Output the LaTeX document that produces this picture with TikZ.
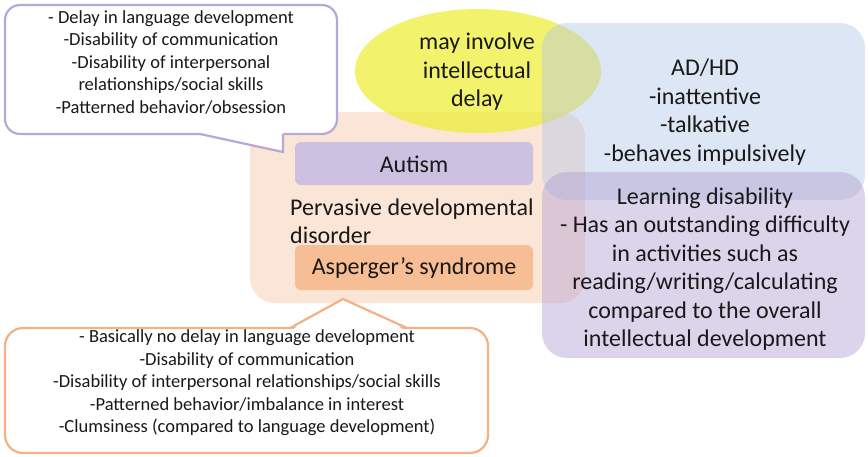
\documentclass[tikz,border=0pt]{standalone}
\usepackage{fontspec}
\setmainfont{Carlito}
\definecolor{pddfill}{RGB}{248,203,173}
\definecolor{autfill}{RGB}{204,193,224}
\definecolor{aspfill}{RGB}{247,190,150}
\definecolor{delayfill}{RGB}{238,238,60}
\definecolor{adhdfill}{RGB}{180,199,231}
\definecolor{ldfill}{RGB}{178,160,210}
\definecolor{purpleline}{RGB}{182,168,216}
\definecolor{orangeline}{RGB}{244,177,131}

\begin{document}
\begin{tikzpicture}[x=1pt,y=-1pt,
    every node/.style={inner sep=0pt, align=center, text=black!90},
    big/.style={font=\fontsize{24}{28.5}\selectfont},
    small/.style={font=\fontsize{18.5}{22.5}\selectfont}]
      \useasboundingbox (0,0) rectangle (868,456);

      % areas
      \fill[pddfill, fill opacity=0.5, rounded corners=25pt] (250,112) rectangle (585,303);
      \fill[autfill, rounded corners=6pt] (295,142) rectangle (533,185);
      \fill[aspfill, rounded corners=6pt] (295,245) rectangle (533,290);
      \fill[delayfill, fill opacity=0.75] (478,71) ellipse [x radius=123, y radius=62];
      \fill[adhdfill, fill opacity=0.45, rounded corners=25pt] (542,23) rectangle (865,200);
      \fill[ldfill, fill opacity=0.45, rounded corners=25pt] (542,172) rectangle (865,358);

      % callouts
      \draw[purpleline, line width=2.2pt, fill=white, rounded corners=15pt]
      (5,5) rectangle (337,134);
      \fill[white] (200,131)--(200,134)--(283,152)--(283,131)--cycle;
      \draw[purpleline, line width=2.2pt] (200,134)--(283,152)--(283,134);

      \draw[orangeline, line width=2.2pt, fill=white, rounded corners=18pt]
      (5,328) rectangle (488,453);
      \fill[white] (290,331)--(343,299)--(407,331)--cycle;
      \draw[orangeline, line width=2.2pt] (290,328)--(343,299)--(407,328);

      % texts
      \node at(171,62) [small] (asd-note) {- Delay in language development\\-Disability of communication\\-Disability of interpersonal\\relationships/social skills\\-Patterned behavior/obsession};
      \node at(247,383) [small] (asp-note) {- Basically no delay in language development\\-Disability of communication\\-Disability of interpersonal relationships/social skills\\-Patterned behavior/imbalance in interest\\-Clumsiness (compared to language development)};
      \node at(477,72) [big] (delay) {may involve\\intellectual\\delay};
      \node at(414,164) [big] (autism) {Autism};
      \node at(290,221) [big, anchor=west, align=left] (pdd) {Pervasive developmental\\disorder};
      \node at(414,268) [big] (asperger) {Asperger’s syndrome};
      \node at(705,112) [big] (adhd) {AD/HD\\-inattentive\\-talkative\\-behaves impulsively};
      \node at(705,269) [big] (ld) {Learning disability\\- Has an outstanding difficulty\\in activities such as\\reading/writing/calculating\\compared to the overall\\intellectual development};
    \end{tikzpicture}
\end{document}
